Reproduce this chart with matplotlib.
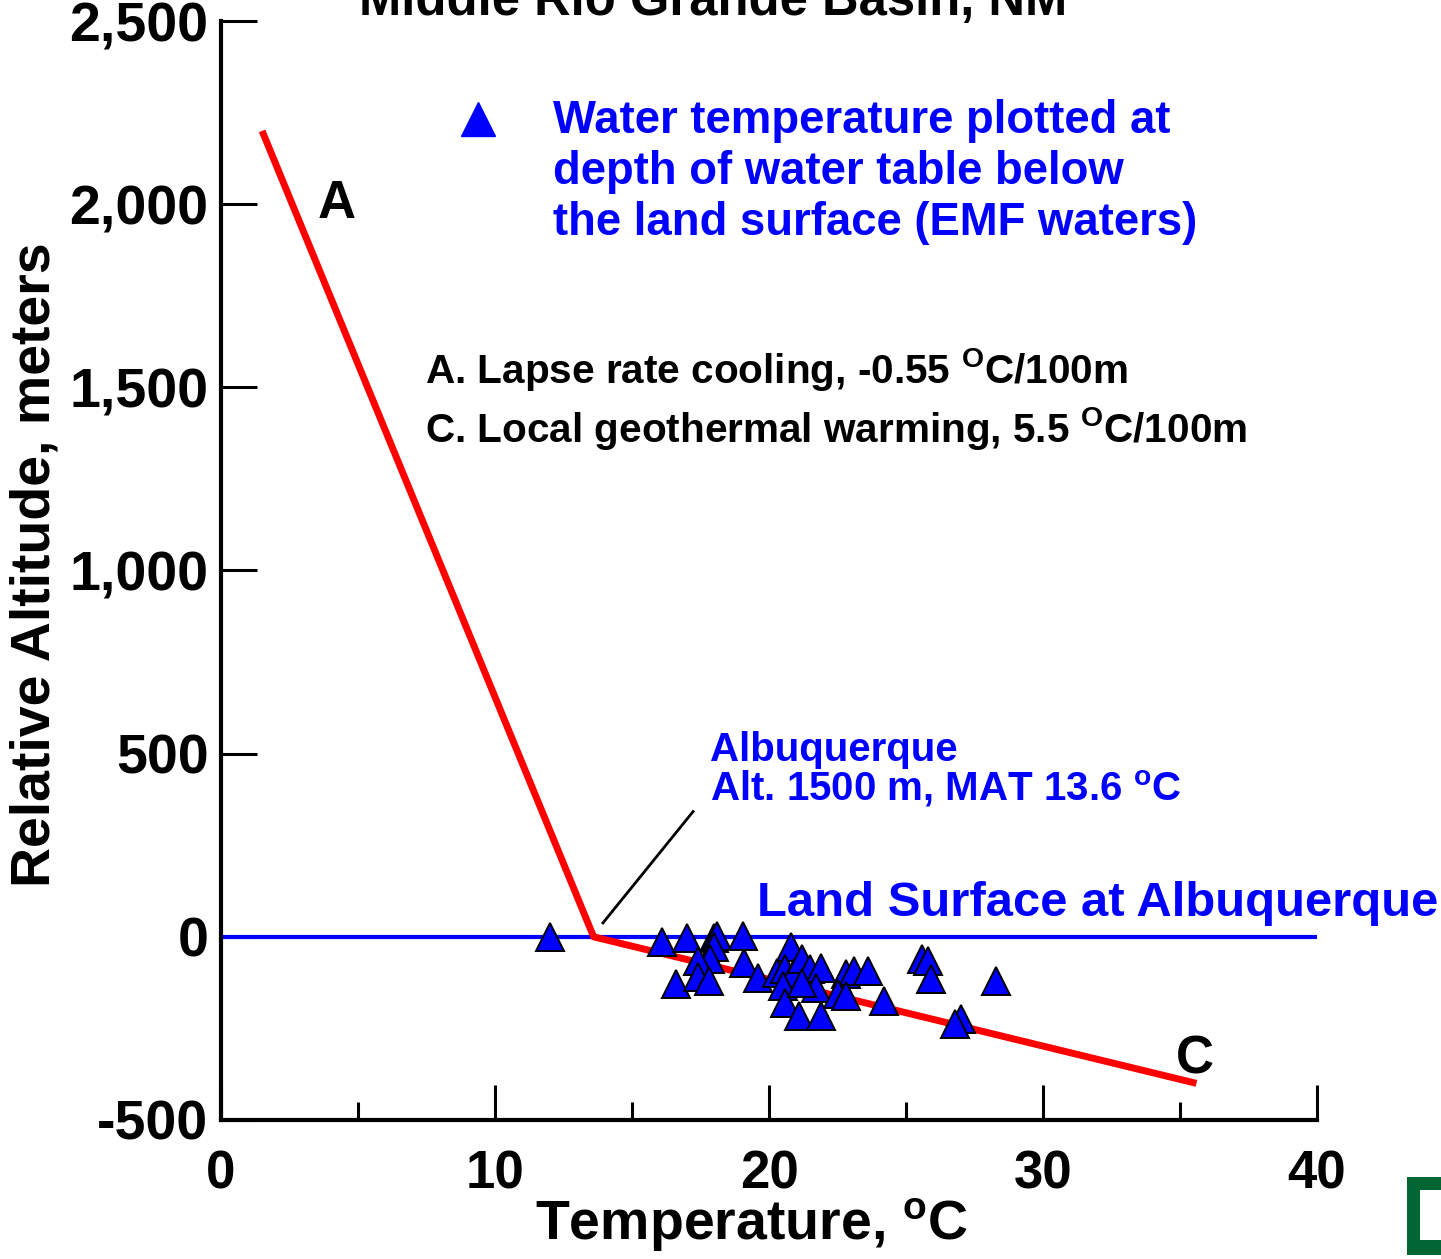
import matplotlib
matplotlib.use("Agg")
import matplotlib.pyplot as plt
from matplotlib.patches import Rectangle

plt.rcParams['font.family'] = ['Liberation Sans', 'DejaVu Sans']
plt.rcParams['font.weight'] = 'bold'
plt.rcParams['axes.unicode_minus'] = False
plt.rcParams['mathtext.fontset'] = 'custom'
plt.rcParams['mathtext.rm'] = 'Liberation Sans:bold'
plt.rcParams['mathtext.it'] = 'Liberation Sans:bold'
plt.rcParams['mathtext.bf'] = 'Liberation Sans:bold'

# ---- data ----
# model line: A (lapse rate cooling) and C (geothermal warming) meeting at Albuquerque
model_temp = [1.5, 13.6, 35.6]
model_alt = [2200, 0, -400]

# land surface at Albuquerque
land_temp = [0, 40]
land_alt = [0, 0]

# EMF water temperatures at depth of water table
water_temp = [12.0, 16.1, 17.0, 18.0, 18.1, 19.05, 18.0, 17.85, 17.4, 19.1,
              16.6, 17.4, 17.8, 19.6, 20.8, 20.3, 20.6, 20.9, 21.2, 21.5,
              21.9, 20.5, 20.6, 21.1, 21.9, 21.7, 21.2, 22.8, 23.1, 23.6,
              22.5, 22.8, 24.2, 25.6, 25.8, 25.9, 28.3, 27.0, 26.8]
water_alt = [0, -14, -2, -2, 3, 3, -29, -61, -66, -71,
             -129, -111, -120, -112, -29, -98, -88, -98, -61, -88,
             -84, -134, -180, -216, -216, -139, -125, -101, -93, -93,
             -156, -161, -175, -60, -65, -115, -120, -224, -238]

xticks_major = [0, 10, 20, 30, 40]
xticks_minor = [5, 15, 25, 35]
yticks = [-500, 0, 500, 1000, 1500, 2000, 2500]
ytick_labels = ['-500', '0', '500', '1,000', '1,500', '2,000', '2,500']

# ---- figure ----
W, H = 1441, 1259
fig = plt.figure(figsize=(W / 100, H / 100), dpi=100)
ax = fig.add_axes([221 / W, 1 - 1120 / H, (1317 - 221) / W, (1120 - 21) / H])

ax.set_xlim(0, 40)
ax.set_ylim(-500, 2500)

ax.plot(land_temp, land_alt, color='#0000ff', lw=3, zorder=2)
ax.plot(model_temp, model_alt, color='#ff0000', lw=5, zorder=3,
        solid_capstyle='butt')
ax.plot(water_temp, water_alt, linestyle='none', marker='^', ms=20.5,
        mfc='#0000ff', mec='black', mew=1.4, zorder=4)

# spines and ticks
for s in ['top', 'right']:
    ax.spines[s].set_visible(False)
for s in ['left', 'bottom']:
    ax.spines[s].set_linewidth(3)
ax.set_xticks(xticks_major)
ax.set_xticks(xticks_minor, minor=True)
ax.set_yticks(yticks)
ax.set_yticklabels(ytick_labels)
ax.tick_params(axis='x', which='major', direction='in', length=25, width=2.2,
               labelsize=38, pad=21)
ax.tick_params(axis='x', which='minor', direction='in', length=13, width=2.2)
ax.tick_params(axis='y', which='major', direction='in', length=26, width=2.2,
               labelsize=40, pad=9)
for lab in ax.get_xticklabels() + ax.get_yticklabels():
    lab.set_fontweight('bold')

# axis labels
fig.text(752 / W, 1 - 1240 / H, 'Temperature, $^{o}$C', fontsize=40,
         fontweight='bold', ha='center', va='baseline')
fig.text(50 / W, 1 - 565 / H, 'Relative Altitude, meters', fontsize=40,
         fontweight='bold', ha='center', va='baseline', rotation=90,
         rotation_mode='anchor')

# title (partly cut off at top, as in the original)
ax.text(17.96, 2516, 'Middle Rio Grande Basin, NM', fontsize=36.5,
        fontweight='bold', ha='center', va='baseline', clip_on=False)

# legend-like key
ax.plot([9.38], [2232], linestyle='none', marker='^', ms=24, mfc='#0000ff',
        mec='#0000ff', clip_on=False)
for yy, line in zip([2194, 2055, 1915],
                    ['Water temperature plotted at',
                     'depth of water table below',
                     'the land surface (EMF waters)']):
    ax.text(12.12, yy, line, color='#0000ff', fontsize=32.8, fontweight='bold',
            ha='left', va='baseline')

# process descriptions
ax.text(7.45, 1511, 'A. Lapse rate cooling, -0.55 $^{O}$C/100m', fontsize=29.2,
        fontweight='bold', ha='left', va='baseline')
ax.text(7.45, 1350, 'C. Local geothermal warming, 5.5 $^{O}$C/100m', fontsize=29.2,
        fontweight='bold', ha='left', va='baseline')

# line labels
ax.text(4.23, 1962, 'A', fontsize=38, fontweight='bold', ha='center', va='baseline')
ax.text(35.55, -372, 'C', fontsize=38, fontweight='bold', ha='center', va='baseline')

# Albuquerque annotation
ax.text(17.85, 481, 'Albuquerque', color='#0000ff', fontsize=29,
        fontweight='bold', ha='left', va='baseline')
ax.text(17.85, 372, 'Alt. 1500 m, MAT 13.6 $^{o}$C', color='#0000ff', fontsize=29,
        fontweight='bold', ha='left', va='baseline')
ax.plot([13.94, 17.23], [38, 342], color='black', lw=2)

ax.text(19.56, 57, 'Land Surface at Albuquerque', color='#0000ff', fontsize=35.3,
        fontweight='bold', ha='left', va='baseline', clip_on=False)

# partial logo at bottom-right corner
fig.patches.append(Rectangle((1407 / W, 1 - 1255 / H), 34 / W, 78 / H,
                             transform=fig.transFigure, facecolor='#006633',
                             edgecolor='none'))
fig.patches.append(Rectangle((1420 / W, 1 - 1240 / H), 21 / W, 50 / H,
                             transform=fig.transFigure, facecolor='white',
                             edgecolor='none'))

fig.savefig('out.png', dpi=100)
